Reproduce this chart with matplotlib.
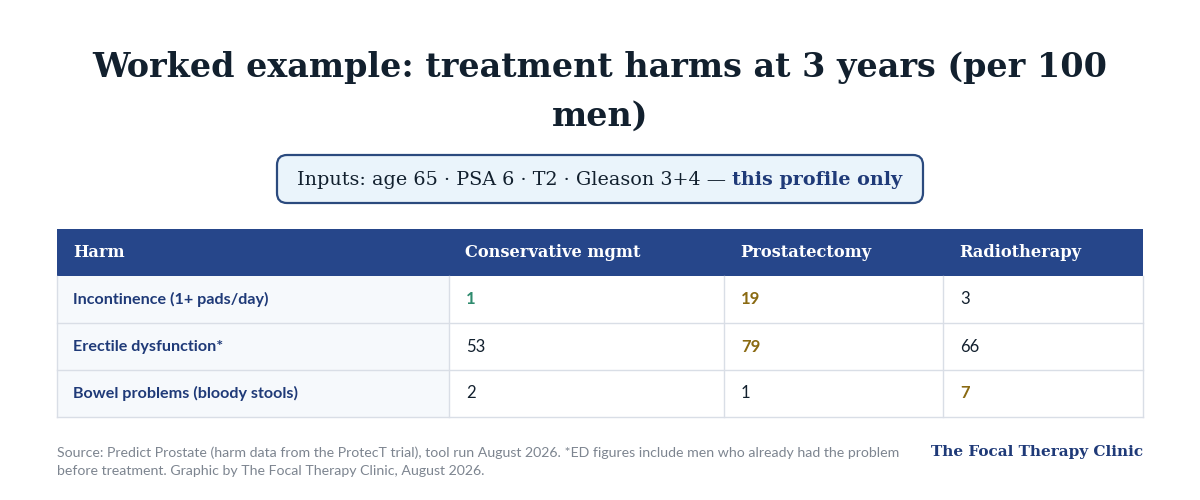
import matplotlib
matplotlib.use("Agg")
import matplotlib.pyplot as plt
from matplotlib.patches import Rectangle, FancyBboxPatch

# ---- data ----
title_lines = ["Worked example: treatment harms at 3 years (per 100", "men)"]
inputs_text = "Inputs: age 65 · PSA 6 · T2 · Gleason 3+4 — "
inputs_emph = "this profile only"
columns = ["Harm", "Conservative mgmt", "Prostatectomy", "Radiotherapy"]
harms = ["Incontinence (1+ pads/day)", "Erectile dysfunction*", "Bowel problems (bloody stools)"]
conservative = [1, 53, 2]
prostatectomy = [19, 79, 1]
radiotherapy = [3, 66, 7]
# highlight flags per cell: 'g' = lowest (green), 'w' = highest (gold), '' = plain
flags = [["g", "w", ""], ["", "w", ""], ["", "", "w"]]
source_lines = ["Source: Predict Prostate (harm data from the ProtecT trial), tool run August 2026. *ED figures include men who already had the problem",
                "before treatment. Graphic by The Focal Therapy Clinic, August 2026."]
brand = "The Focal Therapy Clinic"

# ---- style ----
NAVY = "#26468a"
LABEL = "#1f3a78"
DARK = "#12202e"
GREEN = "#2e8b6e"
GOLD = "#8a6a12"
GRID = "#d9dee6"
SERIF = ["DejaVu Serif"]
SANS = ["Lato", "DejaVu Sans"]

W, H = 1200, 500
fig = plt.figure(figsize=(12, 5), dpi=100)
ax = fig.add_axes([0, 0, 1, 1])
ax.set_xlim(0, W)
ax.set_ylim(H, 0)
ax.axis("off")

# title
ax.text(600, 67, title_lines[0], ha="center", va="center", fontsize=24, fontweight="bold",
        family=SERIF, color=DARK)
ax.text(600, 116, title_lines[1], ha="center", va="center", fontsize=24, fontweight="bold",
        family=SERIF, color=DARK)

# inputs box
box = FancyBboxPatch((277, 155), 646, 48, boxstyle="round,pad=0,rounding_size=10",
                     facecolor="#eaf4fb", edgecolor="#2b4a7e", linewidth=1.6)
ax.add_patch(box)
fig.canvas.draw()
r = fig.canvas.get_renderer()
t1 = ax.text(0, 180, inputs_text, ha="left", va="center", fontsize=13.8, family=SERIF, color=DARK)
t2 = ax.text(0, 180, inputs_emph, ha="left", va="center", fontsize=13.8, family=SERIF,
             fontweight="bold", color=LABEL)
w1 = t1.get_window_extent(r).width
w2 = t2.get_window_extent(r).width
x0 = 600 - (w1 + w2) / 2
t1.set_x(x0)
t2.set_x(x0 + w1)

# table
left, right = 57, 1143
col_x = [57, 449, 724, 943, 1143]
head_top, head_bot = 229, 276
row_h = 47
ax.add_patch(Rectangle((left, head_top), right - left, head_bot - head_top, facecolor=NAVY, edgecolor="none"))
for j, c in enumerate(columns):
    ax.text(col_x[j] + 16, (head_top + head_bot) / 2, c, ha="left", va="center", fontsize=11.7,
            fontweight="bold", family=SERIF, color="white")

values = list(zip(conservative, prostatectomy, radiotherapy))
for i, h in enumerate(harms):
    y0 = head_bot + i * row_h
    ax.add_patch(Rectangle((left, y0), col_x[1] - left, row_h, facecolor="#f6f9fc", edgecolor="none"))
    ax.plot([left, right], [y0 + row_h, y0 + row_h], color=GRID, lw=1)
    ax.text(col_x[0] + 16, y0 + row_h / 2, h, ha="left", va="center", fontsize=11.6,
            fontweight="bold", family=SANS, color=LABEL)
    for j, v in enumerate(values[i]):
        f = flags[i][j]
        col = GREEN if f == "g" else GOLD if f == "w" else DARK
        ax.text(col_x[j + 1] + 17, y0 + row_h / 2, str(v), ha="left", va="center", fontsize=12,
                fontweight="bold" if f else "normal", family=SANS, color=col)
bot = head_bot + 3 * row_h
for x in col_x:
    ax.plot([x, x], [head_bot, bot], color=GRID, lw=1)

# footer
ax.text(57, 453, source_lines[0], ha="left", va="center", fontsize=10.2, family=SANS, color="#7d8590")
ax.text(57, 471, source_lines[1], ha="left", va="center", fontsize=10.2, family=SANS, color="#7d8590")
ax.text(1143, 452, brand, ha="right", va="center", fontsize=11, family=SERIF, fontweight="bold", color=LABEL)

fig.savefig("out.png", dpi=100, facecolor="white")
